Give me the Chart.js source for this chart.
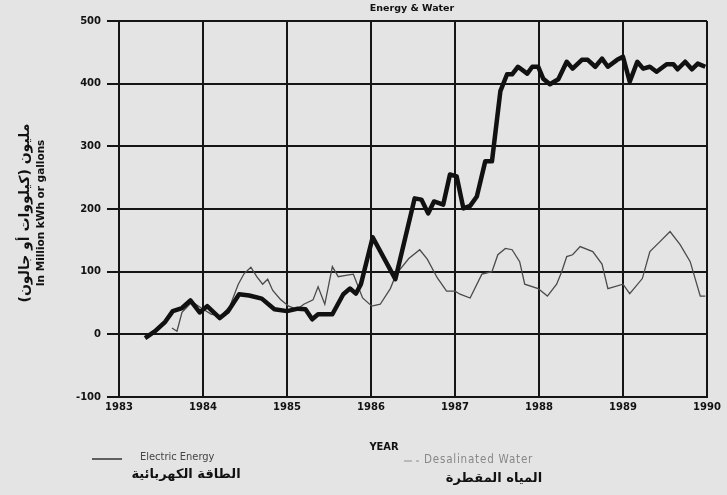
<!DOCTYPE html>
<html>
<head>
<meta charset="utf-8">
<script src="https://cdn.jsdelivr.net/npm/chart.js@4"></script>
<style>
  body { margin: 0; background: #e4e4e4; }
  #wrap { width: 727px; height: 495px; }
</style>
</head>
<body>
<div id="wrap"><canvas id="myChart" width="727" height="495"></canvas></div>
<script>
// electric energy (million kWh)
const elecYears = [1983.31, 1983.43, 1983.55, 1983.64, 1983.75, 1983.85, 1983.96, 1984.05, 1984.2, 1984.3,
  1984.43, 1984.55, 1984.7, 1984.85, 1985.0, 1985.13, 1985.22, 1985.3, 1985.37, 1985.54,
  1985.67, 1985.75, 1985.82, 1985.88, 1986.02, 1986.29, 1986.52, 1986.6, 1986.68, 1986.75,
  1986.86, 1986.94, 1987.02, 1987.1, 1987.18, 1987.26, 1987.36, 1987.44, 1987.54, 1987.62,
  1987.68, 1987.75, 1987.86, 1987.92, 1987.99, 1988.05, 1988.13, 1988.23, 1988.33, 1988.4,
  1988.51, 1988.58, 1988.67, 1988.75, 1988.82, 1988.93, 1989.0, 1989.08, 1989.17, 1989.24,
  1989.32, 1989.4, 1989.52, 1989.6, 1989.65, 1989.74, 1989.82, 1989.89, 1989.98];
const elecValues = [-6, 5, 20, 37, 42, 54, 35, 45, 26, 37,
  64, 62, 57, 40, 37, 41, 40, 24, 32, 32,
  64, 73, 65, 80, 155, 88, 217, 215, 193, 212,
  207, 255, 252, 201, 205, 220, 276, 276, 388, 415,
  415, 427, 416, 427, 427, 408, 399, 407, 435, 424,
  438, 438, 427, 440, 427, 438, 443, 403, 435, 424,
  427, 419, 431, 431, 423, 435, 423, 432, 427];

// desalinated water (million gallons)
const waterYears = [1983.63, 1983.69, 1983.75, 1983.87, 1983.98, 1984.1, 1984.22, 1984.32, 1984.42, 1984.49,
  1984.57, 1984.64, 1984.71, 1984.77, 1984.83, 1984.92, 1985.02, 1985.12, 1985.2, 1985.31,
  1985.37, 1985.45, 1985.54, 1985.61, 1985.7, 1985.79, 1985.9, 1986.01, 1986.11, 1986.23,
  1986.3, 1986.45, 1986.58, 1986.67, 1986.79, 1986.9, 1987.0, 1987.06, 1987.18, 1987.32,
  1987.44, 1987.51, 1987.6, 1987.68, 1987.77, 1987.83, 1987.99, 1988.1, 1988.21, 1988.27,
  1988.33, 1988.4, 1988.49, 1988.64, 1988.75, 1988.82, 1989.0, 1989.08, 1989.23, 1989.32,
  1989.44, 1989.56, 1989.68, 1989.8, 1989.92, 1989.98];
const waterValues = [10, 5, 35, 52, 42, 32, 30, 45, 80, 97,
  107, 92, 80, 88, 70, 56, 45, 40, 48, 55,
  76, 48, 108, 92, 94, 96, 58, 45, 48, 73,
  96, 121, 135, 120, 90, 69, 69, 64, 58, 96,
  100, 127, 137, 135, 116, 80, 73, 61, 80, 100,
  124, 127, 140, 132, 112, 73, 80, 65, 89, 132,
  148, 164, 143, 116, 61, 61];

const yearTicks = [1983, 1984, 1985, 1986, 1987, 1988, 1989, 1990];
const valueTicks = [-100, 0, 100, 200, 300, 400, 500];

const toPoints = (xs, ys) => xs.map((x, i) => ({x: x, y: ys[i]}));

// title, axis titles and the two-language legend
const extraText = {
    id: 'extraText',
    afterDraw(chart) {
        const c = chart.ctx;
        const area = chart.chartArea;
        c.save();
        c.fillStyle = '#111';
        c.textBaseline = 'middle';
        c.textAlign = 'center';
        c.font = 'bold 9.5px "DejaVu Sans"';
        c.fillText('Energy & Water', (area.left + area.right) / 2 - 1, 9);

        c.font = 'bold 11px "DejaVu Sans Condensed", "DejaVu Sans"';
        c.fillText('YEAR', 384, 447);

        // rotated y title
        c.save();
        c.translate(25, 213);
        c.rotate(-Math.PI / 2);
        c.font = 'bold 14px "DejaVu Sans"';
        c.fillText('مليون (كيلووات أو جالون)', 0, 0);
        c.font = 'bold 10.5px "DejaVu Sans"';
        c.fillText('In Million kWh or gallons', 0, 16);
        c.restore();

        // legend
        c.lineWidth = 1.5;
        c.strokeStyle = '#333';
        c.beginPath(); c.moveTo(92, 459); c.lineTo(122, 459); c.stroke();
        c.strokeStyle = '#aaa';
        c.beginPath(); c.moveTo(404, 461); c.lineTo(412, 461); c.moveTo(416, 461); c.lineTo(419, 461); c.stroke();

        c.textAlign = 'left';
        c.font = '11px "DejaVu Sans Condensed", "DejaVu Sans"';
        c.fillStyle = '#444';
        c.fillText('Electric Energy', 140, 457);
        c.fillStyle = '#888';
        c.font = '11.5px "DejaVu Sans Condensed", "DejaVu Sans"';
        c.letterSpacing = '0.8px';
        c.fillText('Desalinated Water', 424, 460);
        c.letterSpacing = '0px';

        c.fillStyle = '#111';
        c.font = 'bold 13px "DejaVu Sans"';
        c.textAlign = 'center';
        c.fillText('الطاقة الكهربائية', 186, 475);
        c.fillText('المياه المقطرة', 494, 479);
        c.restore();
    }
};

const ctx = document.getElementById('myChart');
new Chart(ctx, {
    type: 'line',
    data: {
        datasets: [{
            label: 'Electric Energy',
            data: toPoints(elecYears, elecValues),
            borderColor: '#111',
            borderWidth: 4.5,
            pointRadius: 0,
            tension: 0,
            borderJoinStyle: 'round'
        }, {
            label: 'Desalinated Water',
            data: toPoints(waterYears, waterValues),
            borderColor: '#4a4a4a',
            borderWidth: 1.3,
            pointRadius: 0,
            tension: 0
        }]
    },
    options: {
        responsive: false,
        animation: false,
        layout: {padding: {left: 0, top: 21, right: 20, bottom: 68}},
        plugins: {
            legend: {display: false},
            title: {display: false},
            tooltip: {enabled: false}
        },
        scales: {
            x: {
                type: 'linear',
                min: 1983,
                max: 1990,
                afterBuildTicks: s => { s.ticks = yearTicks.map(v => ({value: v})); },
                afterFit: s => { s.height = 30; },
                ticks: {
                    color: '#111',
                    font: {family: 'DejaVu Sans', weight: 'bold', size: 10},
                    padding: 4,
                    maxRotation: 0,
                    callback: v => String(v)
                },
                grid: {color: '#151515', lineWidth: 2, drawTicks: false},
                border: {color: '#151515', width: 2}
            },
            y: {
                min: -100,
                max: 500,
                afterBuildTicks: s => { s.ticks = valueTicks.map(v => ({value: v})); },
                afterFit: s => { s.width = 119; },
                ticks: {
                    color: '#111',
                    font: {family: 'DejaVu Sans', weight: 'bold', size: 10},
                    padding: 6
                },
                grid: {color: '#151515', lineWidth: 2, tickLength: 12},
                border: {color: '#151515', width: 2}
            }
        }
    },
    plugins: [extraText]
});
</script>
</body>
</html>
